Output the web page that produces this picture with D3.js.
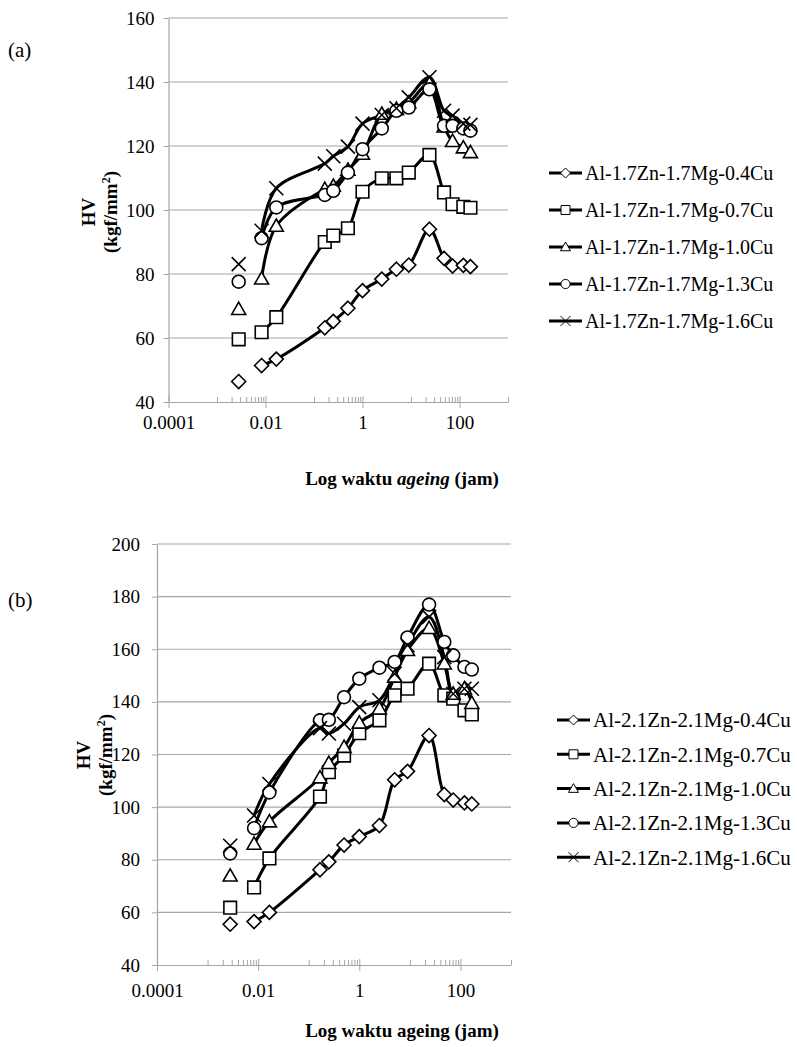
<!DOCTYPE html>
<html>
<head>
<meta charset="utf-8">
<title>HV vs log waktu ageing</title>
<script src="https://d3js.org/d3.v7.min.js"></script>
<style>
  body { margin: 0; background: #fff; }
  svg { display: block; font-family: "Liberation Serif", "Times New Roman", serif; }
</style>
</head>
<body>
<svg id="chart" width="797" height="1047"></svg>
<script>
// waktu ageing (jam) untuk titik yang disambung garis
const times = [0.0083, 0.0167, 0.167, 0.25, 0.5, 1, 2.5, 5, 9, 24, 48, 72, 120, 168];
// titik tunggal (as-quenched)
const quenchTime = 0.0028;

const xTickValues = [0.0001, 0.01, 1, 100];
const xTickLabels = ["0.0001", "0.01", "1", "100"];
const yTicksA = [40, 60, 80, 100, 120, 140, 160];
const yTicksB = [40, 60, 80, 100, 120, 140, 160, 180, 200];

const namesA = ["Al-1.7Zn-1.7Mg-0.4Cu", "Al-1.7Zn-1.7Mg-0.7Cu", "Al-1.7Zn-1.7Mg-1.0Cu",
                "Al-1.7Zn-1.7Mg-1.3Cu", "Al-1.7Zn-1.7Mg-1.6Cu"];
const namesB = ["Al-2.1Zn-2.1Mg-0.4Cu", "Al-2.1Zn-2.1Mg-0.7Cu", "Al-2.1Zn-2.1Mg-1.0Cu",
                "Al-2.1Zn-2.1Mg-1.3Cu", "Al-2.1Zn-2.1Mg-1.6Cu"];
const markers = ["diamond", "square", "triangle", "circle", "cross"];

// (a) Al-1.7Zn-1.7Mg
const quenchA = [46.4, 59.6, 69, 77.6, 83.1];
const hvA04 = [51.4, 53.4, 63.2, 65.2, 69.3, 74.8, 78.4, 81.5, 82.8, 94, 84.9, 82.5, 82.7, 82.3];
const hvA07 = [61.8, 66.5, 90, 92, 94.3, 105.7, 109.9, 109.9, 111.7, 117.2, 105.5, 101.8, 101, 100.7];
const hvA10 = [78.5, 95, 106.5, 107.5, 112.5, 117.5, 130, 131.5, 133.5, 139.5, 126, 121.5, 119.5, 118];
const hvA13 = [91.2, 100.8, 104.7, 106, 111.7, 119, 125.5, 131, 132, 137.7, 126.3, 126.3, 125.5, 124.8];
const hvA16 = [93.5, 106.8, 114.5, 116.8, 119.8, 127, 129.7, 131.8, 135.2, 141.5, 131, 129.5, 127, 126.6];

// (b) Al-2.1Zn-2.1Mg
const quenchB = [55.5, 61.8, 73.9, 82.4, 85.3];
const hvB04 = [56.5, 60, 76.2, 79.2, 85.6, 88.8, 93, 110.4, 113.6, 127.2, 104.8, 102.7, 101.6, 101.2];
const hvB07 = [69.5, 80.5, 104, 113.3, 119.6, 128.1, 133, 142.5, 145, 154.5, 142.5, 141.2, 136.8, 135.2];
const hvB10 = [86, 94.5, 111.2, 116.7, 122.8, 132, 137.4, 149.5, 159.6, 168, 154.5, 143, 145, 139.5];
const hvB13 = [92, 105.6, 133, 133.2, 141.8, 148.8, 153, 155.2, 164.5, 177, 162.8, 157.7, 153.3, 152.3];
const hvB16 = [96.8, 108.8, 130, 128, 131.7, 138, 140.6, 150.7, 161.5, 172.3, 157, 143.1, 145, 145];

const svg = d3.select("#chart");
const gridColor = "#a6a6a6";

function markerPath(type, r) {
  const p = d3.path();
  if (type === "diamond") {
    p.moveTo(0, -r); p.lineTo(r, 0); p.lineTo(0, r); p.lineTo(-r, 0); p.closePath();
  } else if (type === "square") {
    p.rect(-r * 0.9, -r * 0.9, r * 1.8, r * 1.8);
  } else if (type === "triangle") {
    p.moveTo(0, -r); p.lineTo(r, r * 0.75); p.lineTo(-r, r * 0.75); p.closePath();
  } else if (type === "circle") {
    p.arc(0, 0, r * 0.92, 0, 2 * Math.PI);
  } else {
    p.moveTo(-r, -r); p.lineTo(r, r); p.moveTo(r, -r); p.lineTo(-r, r);
  }
  return p.toString();
}

function drawPanel(cfg) {
  const x = d3.scaleLog().domain([0.0001, 1000]).range([cfg.left, cfg.right]);
  const y = d3.scaleLinear().domain(cfg.yDomain).range([cfg.bottom, cfg.top]);
  const g = svg.append("g");

  // garis grid
  g.append("g").selectAll("line").data(cfg.yTicks.slice(1)).join("line")
    .attr("x1", cfg.left).attr("x2", cfg.right)
    .attr("y1", d => y(d)).attr("y2", d => y(d))
    .attr("stroke", gridColor).attr("stroke-width", 1.2);

  // sumbu y
  const yAxis = g.append("g").attr("transform", `translate(${cfg.left},0)`)
    .call(d3.axisLeft(y).tickValues(cfg.yTicks).tickSize(5).tickPadding(cfg.yPad).tickSizeOuter(0));
  yAxis.select(".domain").attr("stroke", gridColor).attr("stroke-width", 1.2);
  yAxis.selectAll(".tick line").attr("stroke", gridColor);
  yAxis.selectAll("text").attr("font-size", 19).attr("fill", "#000")
    .attr("font-family", "Liberation Serif");

  // sumbu x (tick mayor menyilang, tick minor ke dalam)
  const minor = [];
  xTickValues.forEach(m => { for (let k = 1; k <= 9; k++) { const v = m * 10 * k; if (v <= 1000.001) minor.push(v); } });
  const xMinor = g.append("g").attr("transform", `translate(0,${cfg.bottom})`)
    .call(d3.axisBottom(x).tickValues(minor).tickSize(-5).tickFormat("").tickSizeOuter(0));
  xMinor.select(".domain").attr("stroke", gridColor).attr("stroke-width", 1.2);
  xMinor.selectAll(".tick line").attr("stroke", gridColor);

  const xMajor = g.append("g").attr("transform", `translate(0,${cfg.bottom})`)
    .call(d3.axisBottom(x).tickValues(xTickValues).tickSize(6).tickSizeOuter(0)
      .tickFormat((d, i) => xTickLabels[i]));
  xMajor.select(".domain").remove();
  xMajor.selectAll(".tick line").attr("stroke", gridColor).attr("y1", -6);
  xMajor.selectAll("text").attr("font-size", 19).attr("fill", "#000")
    .attr("font-family", "Liberation Serif").attr("y", cfg.xLabelDy).attr("dy", "0.35em");

  // garis seri
  const line = d3.line().x((d, i) => x(times[i])).y(d => y(d)).curve(d3.curveCatmullRom.alpha(0.5));
  cfg.series.forEach(s => {
    g.append("path").attr("d", line(s)).attr("fill", "none")
      .attr("stroke", "#000").attr("stroke-width", 3).attr("stroke-linejoin", "round");
  });

  // penanda
  cfg.series.forEach((s, si) => {
    const type = markers[si];
    const pts = s.map((v, i) => [times[i], v]).concat([[quenchTime, cfg.quench[si]]]);
    g.append("g").selectAll("path").data(pts).join("path")
      .attr("transform", d => `translate(${x(d[0])},${y(d[1])})`)
      .attr("d", markerPath(type, 7))
      .attr("fill", type === "cross" ? "none" : "#fff")
      .attr("stroke", "#000").attr("stroke-width", 1.6);
  });

  // legenda
  const lg = g.append("g");
  cfg.names.forEach((n, i) => {
    const yy = cfg.legendY + i * cfg.legendStep;
    lg.append("line").attr("x1", cfg.legendX).attr("x2", cfg.legendX + 33)
      .attr("y1", yy).attr("y2", yy).attr("stroke", "#000").attr("stroke-width", 3);
    lg.append("path").attr("transform", `translate(${cfg.legendX + 16.5},${yy})`)
      .attr("d", markerPath(markers[i], 5))
      .attr("fill", markers[i] === "cross" ? "none" : "#fff")
      .attr("stroke", "#000").attr("stroke-width", 1);
    lg.append("text").attr("x", cfg.legendX + 36).attr("y", yy).attr("dy", "0.35em")
      .attr("font-size", cfg.legendFont).text(n);
  });

  // judul sumbu y
  const yt = g.append("text").attr("transform", `translate(${cfg.yTitleX},${cfg.yTitleY}) rotate(-90)`)
    .attr("text-anchor", "middle").attr("font-weight", "bold").attr("font-size", 19);
  yt.append("tspan").attr("x", 0).attr("dy", 0).text("HV");
  const t2 = yt.append("tspan").attr("x", 0).attr("dy", 22);
  t2.append("tspan").text("(kgf/mm");
  t2.append("tspan").attr("font-size", 12).attr("dy", -7).text("2");
  t2.append("tspan").attr("dy", 7).text(")");

  // judul sumbu x
  const xt = g.append("text").attr("x", cfg.xTitleX).attr("y", cfg.xTitleY).attr("dy", "0.35em")
    .attr("text-anchor", "middle").attr("font-weight", "bold").attr("font-size", 19);
  xt.append("tspan").text("Log waktu ");
  xt.append("tspan").attr("font-style", cfg.italic ? "italic" : "normal").text("ageing");
  xt.append("tspan").text(" (jam)");

  // label panel
  g.append("text").attr("x", 8).attr("y", cfg.panelLabelY).attr("dy", "0.35em")
    .attr("font-size", 21).text(cfg.panelLabel);
}

drawPanel({
  left: 168.5, right: 508, top: 18, bottom: 402, yDomain: [40, 160], yTicks: yTicksA, yPad: 9,
  xLabelDy: 20, series: [hvA04, hvA07, hvA10, hvA13, hvA16], quench: quenchA, names: namesA,
  legendX: 549, legendY: 173, legendStep: 37, legendFont: 20,
  yTitleX: 95, yTitleY: 212, xTitleX: 402, xTitleY: 478, italic: true,
  panelLabel: "(a)", panelLabelY: 50
});

drawPanel({
  left: 157, right: 511, top: 544, bottom: 965, yDomain: [40, 200], yTicks: yTicksB, yPad: 12,
  xLabelDy: 25, series: [hvB04, hvB07, hvB10, hvB13, hvB16], quench: quenchB, names: namesB,
  legendX: 557, legendY: 720, legendStep: 34.3, legendFont: 21,
  yTitleX: 90, yTitleY: 755, xTitleX: 402, xTitleY: 1030, italic: false,
  panelLabel: "(b)", panelLabelY: 600
});
</script>
</body>
</html>
